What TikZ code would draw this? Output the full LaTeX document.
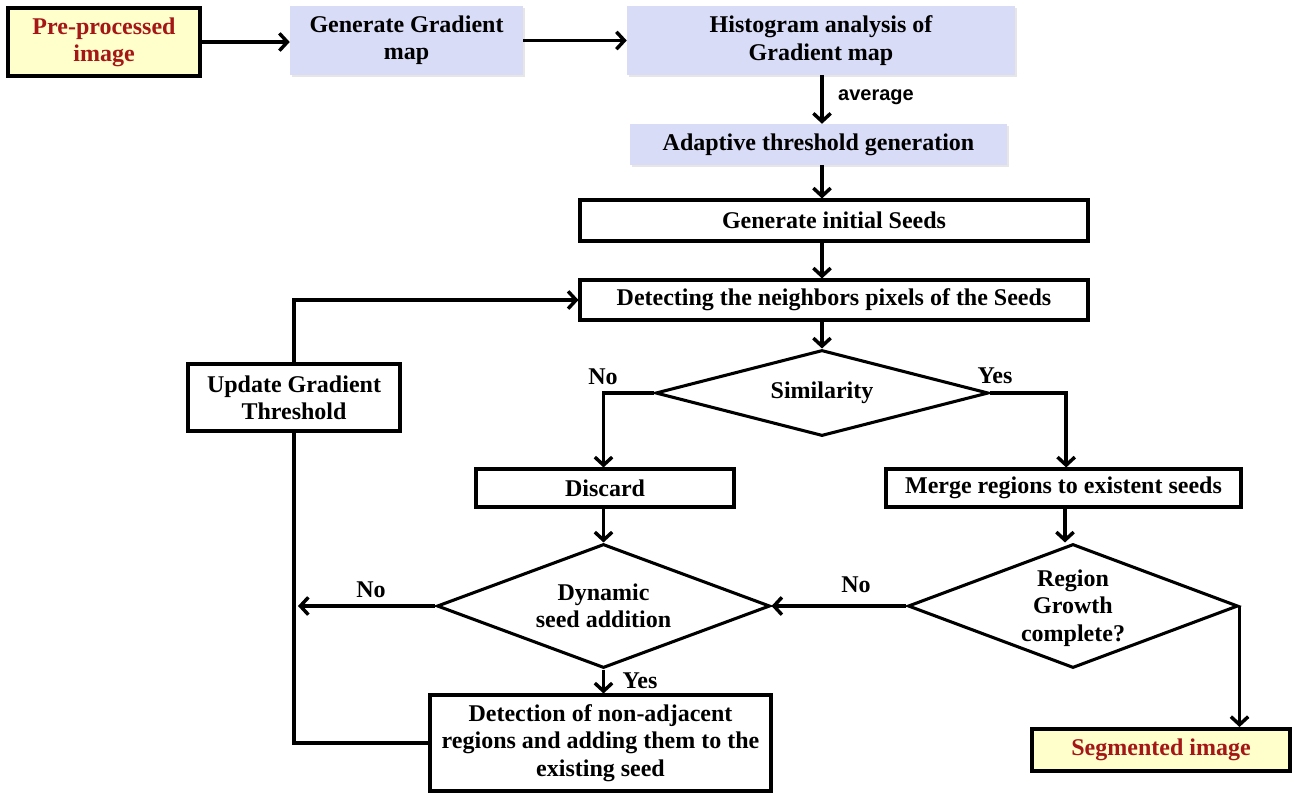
\documentclass[tikz,border=0pt]{standalone}
\usepackage{fontspec}
\setmainfont{Liberation Serif}
\newfontfamily\lsans{Liberation Sans}
\usetikzlibrary{arrows.meta,shapes.geometric,shadows}
\definecolor{lav}{RGB}{217,220,247}
\definecolor{pale}{RGB}{255,255,204}
\definecolor{dred}{RGB}{165,22,22}
\tikzset{
  every node/.style={font=\bfseries\fontsize{18}{20.5}\selectfont},
  lavbox/.style={rectangle, fill=lav, draw=none, align=center, inner sep=0pt,
     drop shadow={opacity=0.2, shadow xshift=1.5pt, shadow yshift=-1.5pt}},
  plainbox/.style={rectangle, draw=black, line width=2.3pt, fill=white, align=center, inner sep=0pt},
  endbox/.style={rectangle, draw=black, line width=3pt, fill=pale, align=center, inner sep=0pt, text=dred},
  dia/.style={diamond, draw=black, line width=2.3pt, inner sep=0pt, fill=white},
  txt/.style={align=center, inner sep=0pt},
  conn/.style={line width=2.6pt},
  arr/.style={line width=2.6pt, -{Straight Barb[length=6pt,width=13pt]}},
  lbl/.style={inner sep=0pt}
}
\begin{document}
\begin{tikzpicture}[x=0.75pt,y=-0.75pt]
\useasboundingbox (0,0) rectangle (1292,794);

\node[endbox, minimum width=144pt, minimum height=51pt] (pre) at (104,42) {Pre-processed\\image};
\node[lavbox, minimum width=174.75pt, minimum height=51.75pt] (gen) at (406.5,40.5) {Generate Gradient\\map};
\node[lavbox, minimum width=291pt, minimum height=51.75pt] (hist) at (821,40.5) {Histogram analysis of\\Gradient map};
\node[lavbox, minimum width=282.75pt, minimum height=30.75pt] (adap) at (818.5,144.5) {Adaptive threshold generation};
\node[plainbox, minimum width=381pt, minimum height=30.75pt] (seeds) at (834,220.5) {Generate initial Seeds};
\node[plainbox, minimum width=381pt, minimum height=30pt] (detn) at (834,300) {Detecting the neighbors pixels of the Seeds};

\node[dia, minimum width=249.75pt, minimum height=64.5pt] (sim) at (822,393) {};
\node[txt] (simt) at (sim) {Similarity};

\node[plainbox, minimum width=159pt, minimum height=50.25pt] (upd) at (294,397.5) {Update Gradient\\Threshold};
\node[plainbox, minimum width=193.5pt, minimum height=28.5pt] (disc) at (605,488) {Discard};
\node[plainbox, minimum width=266.25pt, minimum height=28.5pt] (merge) at (1063.5,488) {Merge regions to existent seeds};

\node[dia, minimum width=249.75pt, minimum height=93pt] (dyn) at (603.5,606) {};
\node[txt] (dynt) at (603.5,606) {Dynamic\\seed addition};
\node[dia, minimum width=247.5pt, minimum height=93pt] (rg) at (1073,606) {};
\node[txt] (rgt) at (1073,608) {Region\\Growth\\complete?};

\node[plainbox, minimum width=255.75pt, minimum height=72pt] (det) at (600.5,743) {Detection of non-adjacent\\regions and adding them to the\\existing seed};
\node[endbox, minimum width=193.5pt, minimum height=31.5pt] (seg) at (1161,750) {Segmented image};

% labels
\node[lbl, font=\lsans\bfseries\fontsize{15}{18}\selectfont] (avg) at (876,97) {average};
\node[lbl] (no1) at (603,377) {No};
\node[lbl] (yes1) at (995,376) {Yes};
\node[lbl] (no2) at (371,590) {No};
\node[lbl] (no3) at (856,585) {No};
\node[lbl] (yes2) at (640,681) {Yes};

% connectors
\draw[arr] (pre.east) -- (pre.east -| gen.west);
\draw[arr] (gen.east) -- (gen.east -| hist.west);
\draw[arr] (hist.south -| sim) -- (adap.north -| sim);
\draw[arr] (adap.south -| sim) -- (seeds.north -| sim);
\draw[arr] (seeds.south -| sim) -- (detn.north -| sim);
\draw[arr] (detn.south -| sim) -- (sim.north);
\draw[arr] (sim.west) -| (disc.north -| dyn);
\draw[arr] (sim.east) -| ([xshift=2pt]merge.north);
\draw[arr] (disc.south -| dyn) -- (dyn.north);
\draw[arr] ([xshift=-6pt]merge.south -| rg) -- ([xshift=-6pt]rg.north);
\draw[arr] (rg.west) -- (dyn.east);
\draw[arr] (rg.east) -- (rg.east |- seg.north);
\draw[arr] (dyn.west) -- ([xshift=3pt]dyn.west -| upd);
\draw[arr] (dyn.south) -- (det.north -| dyn);
\draw[conn] (det.west) -| (upd.south);
\draw[arr] (upd.north) |- (detn.west);
\end{tikzpicture}
\end{document}
